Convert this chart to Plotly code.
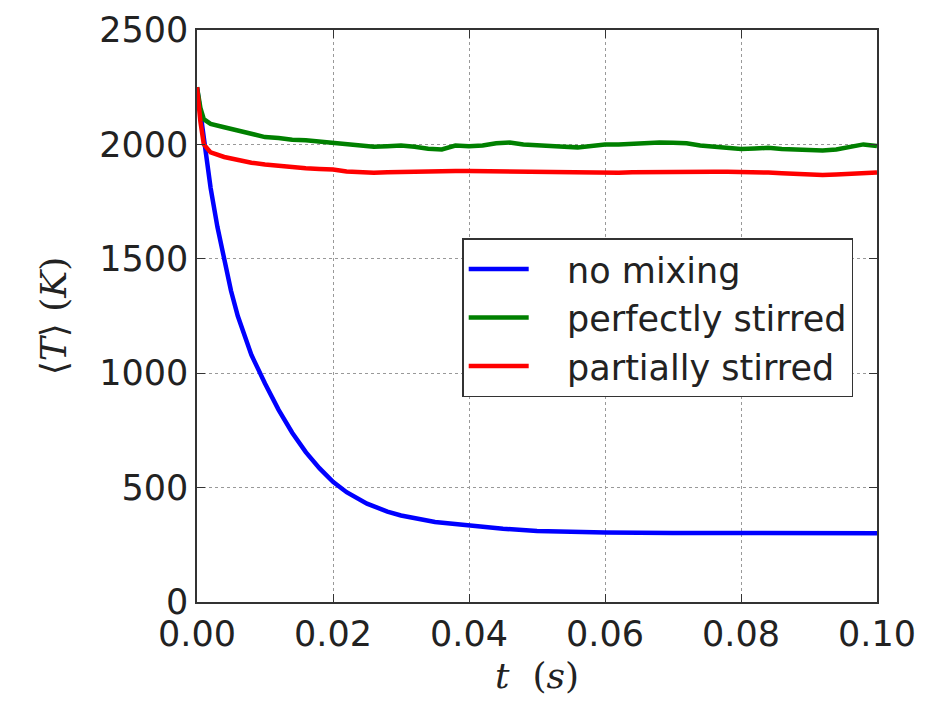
import plotly.graph_objects as go

# time grid (s)
t_blue = [0, 0.001, 0.002, 0.003, 0.004, 0.005, 0.006, 0.008, 0.010, 0.012, 0.014, 0.016,
          0.018, 0.020, 0.022, 0.025, 0.028, 0.030, 0.035, 0.040, 0.045, 0.050, 0.055,
          0.060, 0.070, 0.080, 0.090, 0.100]
T_blue = [2250, 2020, 1810, 1640, 1490, 1360, 1250, 1080, 955, 840, 740, 655,
          585, 525, 480, 430, 395, 378, 350, 335, 320, 310, 306,
          304, 302, 300, 300, 300]

t_grid = [0, 0.0005, 0.001, 0.002, 0.004, 0.006, 0.008, 0.010, 0.012, 0.014, 0.016, 0.018,
          0.020, 0.022, 0.024, 0.026, 0.028, 0.030, 0.032, 0.034, 0.036, 0.038, 0.040,
          0.042, 0.044, 0.046, 0.048, 0.050, 0.052, 0.054, 0.056, 0.058, 0.060, 0.062,
          0.064, 0.066, 0.068, 0.070, 0.072, 0.074, 0.076, 0.078, 0.080, 0.082, 0.084,
          0.086, 0.088, 0.090, 0.092, 0.094, 0.096, 0.098, 0.100]
T_green = [2250, 2160, 2110, 2090, 2075, 2060, 2045, 2032, 2028, 2020, 2018, 2012,
           2008, 2005, 1996, 1990, 1992, 1995, 1990, 1981, 1978, 1995, 1992,
           1995, 2005, 2008, 2000, 1998, 1995, 1990, 1987, 1995, 2000, 2000,
           2003, 2005, 2008, 2007, 2005, 1995, 1990, 1982, 1980, 1982, 1985,
           1980, 1978, 1976, 1973, 1978, 1990, 2000, 1993]
T_red = [2250, 2100, 2000, 1965, 1945, 1930, 1920, 1912, 1906, 1900, 1896, 1893,
         1890, 1882, 1877, 1876, 1878, 1880, 1882, 1883, 1884, 1884, 1884,
         1883, 1882, 1881, 1880, 1880, 1879, 1878, 1876, 1876, 1875, 1876,
         1878, 1879, 1880, 1880, 1880, 1880, 1880, 1880, 1880, 1879, 1877,
         1874, 1870, 1868, 1866, 1868, 1872, 1876, 1877]

labels = ["no mixing", "perfectly stirred", "partially stirred"]
colors = ["#0000ff", "#008000", "#ff0000"]

x_ticks = [0.00, 0.02, 0.04, 0.06, 0.08, 0.10]
y_ticks = [0, 500, 1000, 1500, 2000, 2500]

fig = go.Figure()
for tx, ty, name, c in [(t_blue, T_blue, labels[0], colors[0]),
                        (t_grid, T_green, labels[1], colors[1]),
                        (t_grid, T_red, labels[2], colors[2])]:
    fig.add_trace(go.Scatter(x=tx, y=ty, mode="lines",
                             name="\u00a0\u00a0\u00a0" + name,
                             line=dict(color=c, width=4.5)))

axis_common = dict(
    showline=True, linecolor="#333333", linewidth=1.5, mirror="ticks",
    ticks="inside", ticklen=8, tickcolor="#333333", tickwidth=1,
    showgrid=True, gridcolor="#999999", griddash="dot", gridwidth=1,
    zeroline=False, automargin=False,
    tickfont=dict(family="DejaVu Sans", size=35, color="#222222"),
)

fig.update_layout(
    width=935, height=701,
    paper_bgcolor="white", plot_bgcolor="white",
    margin=dict(l=189, r=66, t=22, b=107),
    xaxis=dict(range=[0, 0.1], tickvals=x_ticks, tickformat=".2f",
               title=dict(text="<i>t</i>  (<i>s</i>)", standoff=10,
                          font=dict(family="DejaVu Serif", size=36, color="#222222")),
               **axis_common),
    yaxis=dict(range=[0, 2500], tickvals=y_ticks,
               title=dict(text="⟨<i>T</i>⟩ (<i>K</i>)", standoff=22,
                          font=dict(family="DejaVu Serif", size=36, color="#222222")),
               **axis_common),
    legend=dict(x=0.39, y=0.636, xanchor="left", yanchor="top",
                bgcolor="white", bordercolor="#333333", borderwidth=1.5,
                font=dict(family="DejaVu Sans", size=35, color="#222222"),
                itemwidth=60, tracegroupgap=0),
    showlegend=True,
)

fig.write_html("out.html")
